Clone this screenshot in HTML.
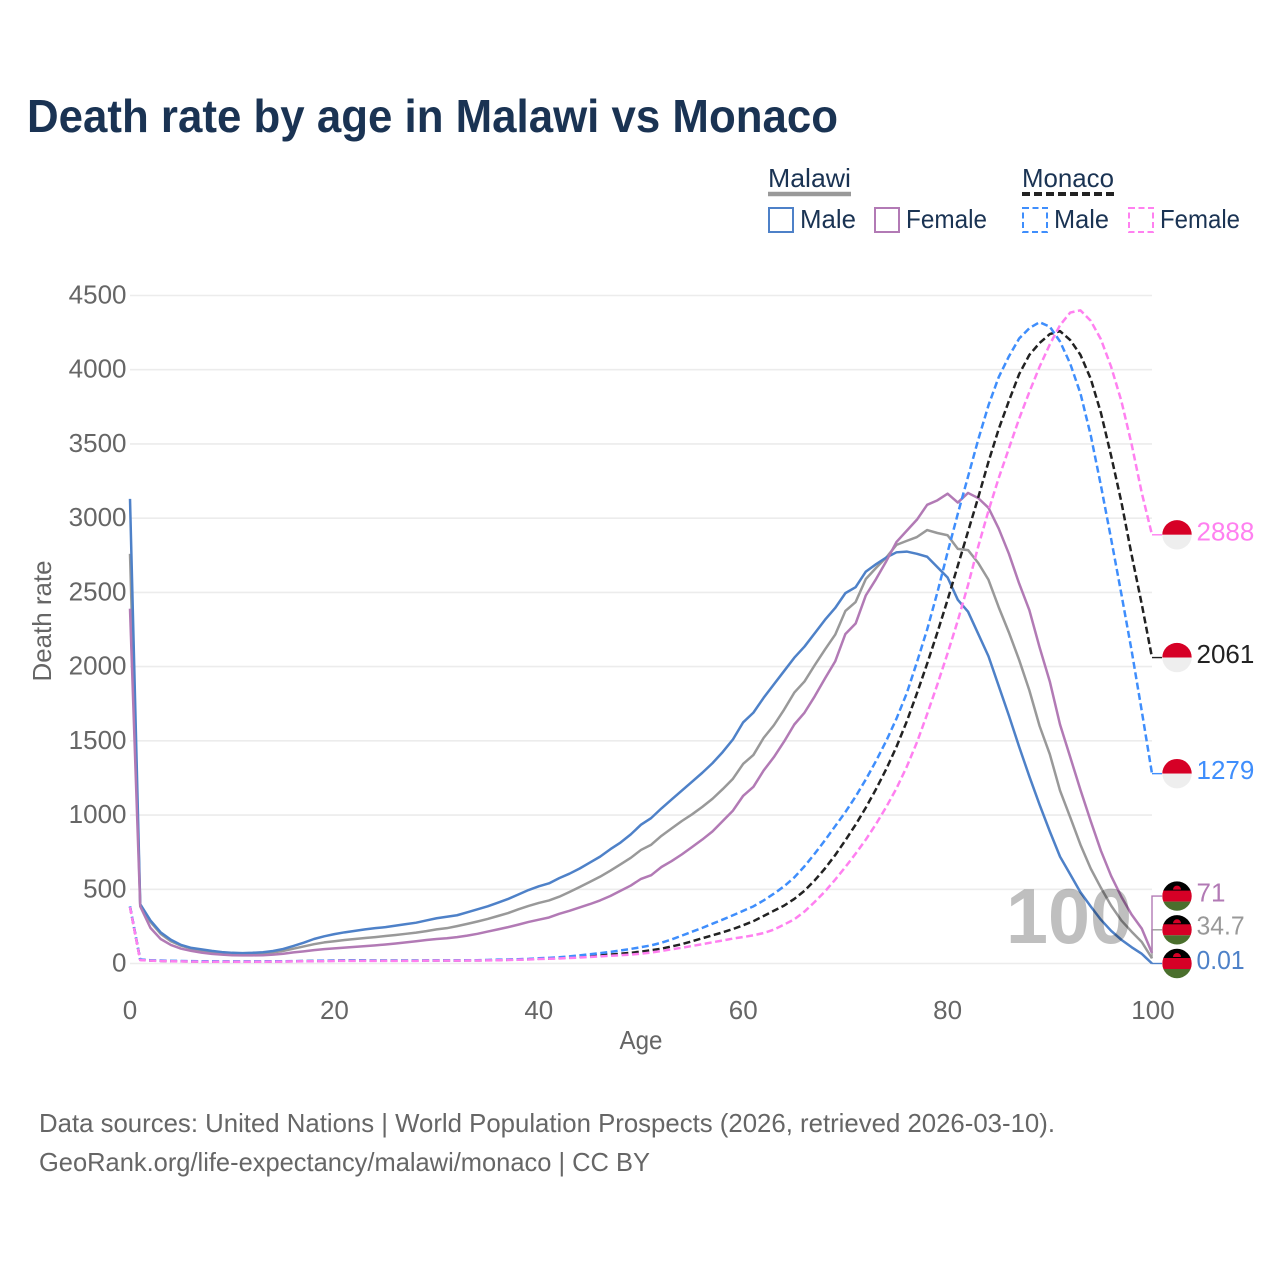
<!DOCTYPE html>
<html>
<head>
<meta charset="utf-8">
<style>
html,body{margin:0;padding:0;background:#fff;}
svg{display:block;font-family:"Liberation Sans",sans-serif;}
</style>
</head>
<body>
<svg id="chart" width="1280" height="1280" viewBox="0 0 1280 1280" xmlns="http://www.w3.org/2000/svg">
  <defs>
    <clipPath id="flag-clip"><circle cx="0" cy="0" r="14.7"></circle></clipPath>
  </defs>
  <text x="27" y="132" font-size="46" font-weight="700" fill="#1a3353" textLength="811" lengthAdjust="spacingAndGlyphs">Death rate by age in Malawi vs Monaco</text>

  <g fill="#1a3353" font-size="26">
    <text x="768" y="187" textLength="83" lengthAdjust="spacingAndGlyphs">Malawi</text>
    <line x1="768" x2="851" y1="194" y2="194" stroke="#999" stroke-width="4.5"></line>
    <text x="1022" y="187" textLength="92" lengthAdjust="spacingAndGlyphs">Monaco</text>
    <line x1="1022" x2="1114" y1="194" y2="194" stroke="#222" stroke-width="4" stroke-dasharray="8 4"></line>

    <rect x="769" y="208" width="24" height="24" fill="none" stroke="#4e81c8" stroke-width="2"></rect>
    <text x="800" y="228" textLength="56" lengthAdjust="spacingAndGlyphs">Male</text>
    <rect x="875" y="208" width="24" height="24" fill="none" stroke="#b27ab5" stroke-width="2"></rect>
    <text x="906" y="228" textLength="81" lengthAdjust="spacingAndGlyphs">Female</text>
    <rect x="1023" y="208" width="24" height="24" fill="none" stroke="#3f8efc" stroke-width="2" stroke-dasharray="6 3.5"></rect>
    <text x="1054" y="228" textLength="55" lengthAdjust="spacingAndGlyphs">Male</text>
    <rect x="1129" y="208" width="24" height="24" fill="none" stroke="#ff80f0" stroke-width="2" stroke-dasharray="6 3.5"></rect>
    <text x="1160" y="228" textLength="80" lengthAdjust="spacingAndGlyphs">Female</text>
  </g>

  <g id="grid"></g>
  <g id="yticks" font-size="26" fill="#666" text-anchor="end"></g>
  <g id="xticks" font-size="26" fill="#666" text-anchor="middle"></g>
  <text x="641" y="1049" font-size="26" fill="#666" text-anchor="middle" textLength="43" lengthAdjust="spacingAndGlyphs">Age</text>
  <text transform="translate(51,621) rotate(-90)" font-size="26" fill="#666" text-anchor="middle" textLength="121" lengthAdjust="spacingAndGlyphs">Death rate</text>

  <g id="series"></g>
  <g id="ends"></g>

  <text x="1006" y="943" font-size="78" font-weight="700" fill="#000" fill-opacity="0.25" textLength="126" lengthAdjust="spacingAndGlyphs">100</text>

  <text x="39" y="1132" font-size="26" fill="#666" textLength="1016" lengthAdjust="spacingAndGlyphs">Data sources: United Nations | World Population Prospects (2026, retrieved 2026-03-10).</text>
  <text x="39" y="1171" font-size="26" fill="#666" textLength="611" lengthAdjust="spacingAndGlyphs">GeoRank.org/life-expectancy/malawi/monaco | CC BY</text>
</svg>
<script>
const yTickValues = [0, 500, 1000, 1500, 2000, 2500, 3000, 3500, 4000, 4500];
const xTickValues = [0, 20, 40, 60, 80, 100];

const malawiMale = [
  3130,400,290,210,160,125,105,95,85,77,
  72,70,72,76,84,98,118,140,165,183,
  198,210,220,230,238,245,255,265,275,290,
  305,315,325,345,365,385,410,435,465,495,
  520,540,575,605,640,680,720,770,815,870,
  935,980,1045,1105,1165,1225,1285,1350,1425,1510,
  1625,1690,1790,1880,1970,2060,2135,2225,2315,2395,
  2495,2535,2640,2690,2735,2770,2775,2760,2740,2670,
  2600,2450,2370,2220,2070,1870,1670,1460,1260,1070,
  890,720,600,480,385,295,220,160,110,65,
  0.01];
const malawiTotal = [
  2760,395,280,200,150,120,100,88,78,70,
  66,64,65,68,75,85,100,115,130,142,
  150,158,165,172,178,185,192,200,208,218,
  230,238,252,267,283,300,320,340,365,388,
  408,425,450,482,515,550,585,625,668,712,
  765,800,860,910,960,1005,1055,1110,1175,1245,
  1345,1405,1520,1605,1710,1825,1900,2010,2115,2215,
  2375,2435,2590,2665,2735,2820,2847,2873,2920,2900,
  2885,2793,2785,2698,2585,2400,2230,2045,1840,1600,
  1410,1165,985,800,640,510,390,290,215,145,
  34.7];
const malawiFemale = [
  2390,385,240,165,125,100,85,73,65,60,
  56,55,55,56,60,66,75,82,90,97,
  102,107,112,117,122,128,135,142,150,158,
  165,170,178,188,200,215,230,245,262,280,
  295,310,335,355,378,400,425,455,490,525,
  570,595,650,690,735,785,835,890,960,1030,
  1130,1190,1300,1390,1495,1610,1690,1800,1920,2035,
  2220,2290,2480,2590,2710,2840,2915,2990,3090,3120,
  3165,3105,3170,3135,3070,2930,2760,2560,2380,2130,
  1900,1610,1390,1170,960,760,590,450,330,235,
  71];
const monacoMale = [
  385,27,22,20,18,17,16,15,15,14,
  14,14,14,14,15,15,16,17,18,19,
  20,21,21,21,20,20,20,20,20,21,
  21,21,21,22,22,24,26,27,29,31,
  35,38,42,48,55,62,70,78,88,98,
  110,122,140,162,188,214,240,268,296,325,
  355,385,425,470,520,580,655,740,830,925,
  1020,1125,1240,1365,1500,1650,1820,2030,2250,2500,
  2770,3030,3280,3530,3760,3950,4090,4210,4280,4320,
  4290,4190,4040,3840,3560,3220,2860,2490,2110,1700,
  1279];
const monacoTotal = [
  383,25,20,18,16,15,14,13,13,13,
  13,13,13,13,14,14,15,16,17,18,
  19,20,20,20,19,19,19,19,19,20,
  20,20,20,21,21,22,24,25,27,29,
  32,34,37,41,45,50,55,60,66,72,
  80,90,100,115,130,150,170,190,210,232,
  258,285,320,355,390,435,490,560,640,730,
  830,935,1050,1175,1310,1460,1630,1820,2020,2230,
  2450,2680,2910,3140,3380,3600,3790,3970,4100,4180,
  4240,4260,4200,4100,3940,3710,3420,3110,2755,2420,
  2061];
const monacoFemale = [
  380,23,19,17,15,14,13,12,12,12,
  12,12,12,12,13,13,14,15,15,16,
  17,18,18,18,18,18,18,18,18,19,
  19,19,19,20,20,21,22,24,25,27,
  30,32,34,37,40,44,48,52,56,60,
  66,74,84,96,106,118,130,143,155,168,
  178,190,205,228,262,298,350,415,485,565,
  650,740,835,940,1055,1180,1325,1490,1680,1880,
  2090,2310,2550,2810,3050,3270,3470,3670,3850,4020,
  4170,4300,4385,4400,4330,4205,4020,3790,3500,3170,
  2888];

const X0 = 130, X1 = 1152, Y0 = 963.5, Y1 = 295.5;
const SVG_NS = "http://www.w3.org/2000/svg";
function xScale(age) { return X0 + (age / 100) * (X1 - X0); }
function yScale(v) { return Y0 - (v / 4500) * (Y0 - Y1); }
function make(tag, attrs, parent) {
  const el = document.createElementNS(SVG_NS, tag);
  for (const k in attrs) el.setAttribute(k, attrs[k]);
  parent.appendChild(el);
  return el;
}

const gridG = document.getElementById("grid");
const yG = document.getElementById("yticks");
yTickValues.forEach(function (v) {
  const gl = make("line", {x1: X0, x2: X1, y1: yScale(v), y2: yScale(v), stroke: "#ececec", "stroke-width": 1.6}, gridG);
  
  
  const t = make("text", {x: 126.5, y: yScale(v) + 8}, yG);
  
  
  t.textContent = String(v);
});
const xG = document.getElementById("xticks");
xTickValues.forEach(function (v) {
  const t = make("text", {x: xScale(v) + (v === 100 ? 1 : 0), y: 1019}, xG);
  
  
  t.textContent = String(v);
});

const seriesG = document.getElementById("series");
function drawLine(values, color, dash, name) {
  const pts = values.map(function (v, i) { return xScale(i).toFixed(2) + "," + yScale(v).toFixed(2); }).join(" ");
  const attrs = {points: pts, fill: "none", stroke: color, "stroke-width": 2.5, "stroke-linejoin": "round"};
  if (dash) attrs["stroke-dasharray"] = dash;
  const p = make("polyline", attrs, seriesG);
  
  
}
drawLine(malawiTotal, "#999999", null, "line-malawi-total");
drawLine(malawiMale, "#4e81c8", null, "line-malawi-male");
drawLine(malawiFemale, "#b27ab5", null, "line-malawi-female");
drawLine(monacoTotal, "#222222", "7 3.5", "line-monaco-total");
drawLine(monacoMale, "#3f8efc", "7 3.5", "line-monaco-male");
drawLine(monacoFemale, "#ff80f0", "7 3.5", "line-monaco-female");

const endsG = document.getElementById("ends");
function drawFlag(country, cy) {
  const g = make("g", {transform: "translate(1177," + cy + ")", "clip-path": "url(#flag-clip)"}, endsG);
  
  
  if (country === "malawi") {
    make("rect", {x: -15, y: -15, width: 30, height: 10, fill: "#000"}, g);
    make("rect", {x: -15, y: -5.5, width: 30, height: 11, fill: "#d60026"}, g);
    make("rect", {x: -15, y: 5.5, width: 30, height: 10, fill: "#4a6f2d"}, g);
    make("path", {d: "M-4 -6.5 A4 4 0 0 1 4 -6.5 Z", fill: "#d60026"}, g);
  } else {
    make("rect", {x: -15, y: -15, width: 30, height: 15, fill: "#d60026"}, g);
    make("rect", {x: -15, y: 0, width: 30, height: 15, fill: "#eeeeee"}, g);
  }
}
function drawEnd(group, country) {
  const sorted = group.slice().sort(function (a, b) { return yScale(b.values[100]) - yScale(a.values[100]); });
  let prev = Infinity;
  sorted.forEach(function (s) {
    const y0 = yScale(s.values[100]);
    const y = Math.min(y0, prev - 33.7);
    prev = y;
    const c = make("polyline", {points: X1 + "," + y0 + " " + X1 + "," + y + " 1162," + y, fill: "none", stroke: s.color, "stroke-width": 1.4}, endsG);
    
    
    drawFlag(country, y);
    const t = make("text", {x: 1196.5, y: y + 5.5 + s.dy, "font-size": 26, fill: s.color}, endsG);
    
    
    t.textContent = String(s.values[100]);
    if (t.textContent.indexOf(".") >= 0) {
      t.setAttribute("textLength", (t.getComputedTextLength() * 0.95).toFixed(1));
      t.setAttribute("lengthAdjust", "spacingAndGlyphs");
    }
  });
}
drawEnd([
  {values: malawiMale, color: "#4e81c8", dy: 0},
  {values: malawiTotal, color: "#999999", dy: -1},
  {values: malawiFemale, color: "#b27ab5", dy: 0}
], "malawi");
drawEnd([
  {values: monacoMale, color: "#3f8efc", dy: 0},
  {values: monacoTotal, color: "#222222", dy: 0},
  {values: monacoFemale, color: "#ff80f0", dy: 0}
], "monaco");
</script>
</body>
</html>
